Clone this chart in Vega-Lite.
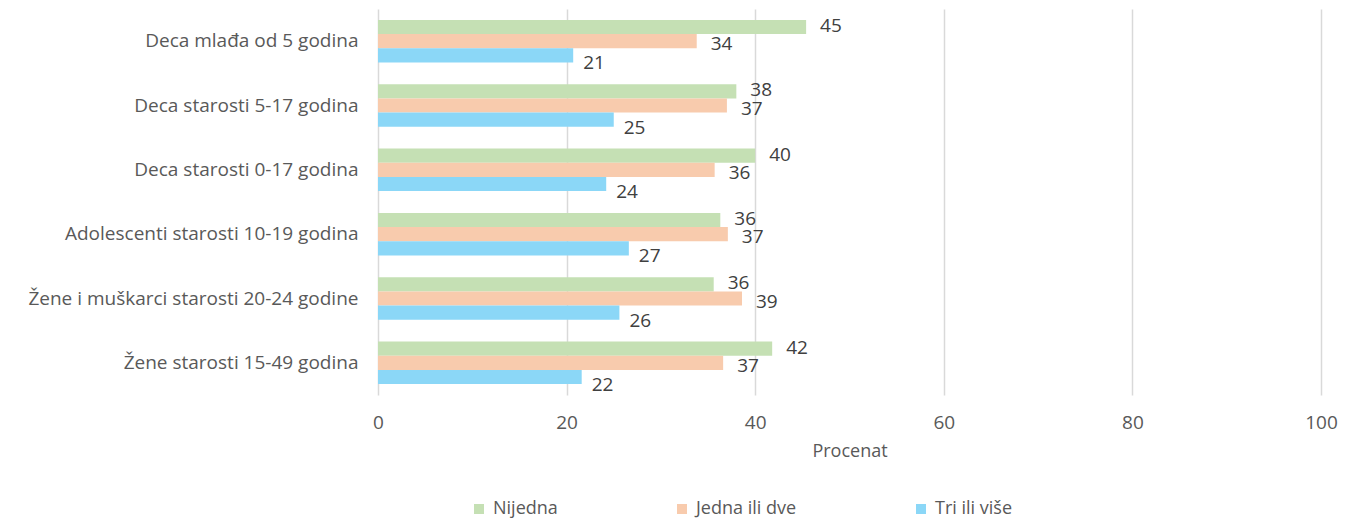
{
  "$schema": "https://vega.github.io/schema/vega-lite/v6.json",
  "width": 943,
  "height": 386,
  "autosize": {"type": "none"},
  "padding": {"left": 378, "top": 9, "right": 29, "bottom": 124},
  "config": {"view": {"stroke": null}, "font": "Open Sans"},
  "data": {
    "values": [
      {"group": "Deca mlađa od 5 godina", "series": "Nijedna", "value": 45.4},
      {"group": "Deca mlađa od 5 godina", "series": "Jedna ili dve", "value": 33.8},
      {"group": "Deca mlađa od 5 godina", "series": "Tri ili više", "value": 20.7},
      {"group": "Deca starosti 5-17 godina", "series": "Nijedna", "value": 38.0},
      {"group": "Deca starosti 5-17 godina", "series": "Jedna ili dve", "value": 37.0},
      {"group": "Deca starosti 5-17 godina", "series": "Tri ili više", "value": 25.0},
      {"group": "Deca starosti 0-17 godina", "series": "Nijedna", "value": 40.0},
      {"group": "Deca starosti 0-17 godina", "series": "Jedna ili dve", "value": 35.7},
      {"group": "Deca starosti 0-17 godina", "series": "Tri ili više", "value": 24.2},
      {"group": "Adolescenti starosti 10-19 godina", "series": "Nijedna", "value": 36.3},
      {"group": "Adolescenti starosti 10-19 godina", "series": "Jedna ili dve", "value": 37.1},
      {"group": "Adolescenti starosti 10-19 godina", "series": "Tri ili više", "value": 26.6},
      {"group": "Žene i muškarci starosti  20-24 godine", "series": "Nijedna", "value": 35.6},
      {"group": "Žene i muškarci starosti  20-24 godine", "series": "Jedna ili dve", "value": 38.6},
      {"group": "Žene i muškarci starosti  20-24 godine", "series": "Tri ili više", "value": 25.6},
      {"group": "Žene starosti  15-49 godina", "series": "Nijedna", "value": 41.8},
      {"group": "Žene starosti  15-49 godina", "series": "Jedna ili dve", "value": 36.6},
      {"group": "Žene starosti  15-49 godina", "series": "Tri ili više", "value": 21.6}
    ]
  },
  "encoding": {
    "y": {
      "field": "group",
      "type": "nominal",
      "sort": ["Deca mlađa od 5 godina", "Deca starosti 5-17 godina", "Deca starosti 0-17 godina", "Adolescenti starosti 10-19 godina", "Žene i muškarci starosti  20-24 godine", "Žene starosti  15-49 godina"],
      "scale": {"paddingInner": 0.34, "paddingOuter": 0.17},
      "axis": {"title": null, "domain": false, "ticks": false, "grid": false, "labelFontSize": 19, "labelColor": "#595959", "labelPadding": 20, "labelLimit": 400}
    },
    "yOffset": {"field": "series", "type": "nominal", "sort": ["Nijedna", "Jedna ili dve", "Tri ili više"]},
    "x": {
      "field": "value",
      "type": "quantitative",
      "scale": {"domain": [0, 100], "nice": false},
      "axis": {"values": [0, 20, 40, 60, 80, 100], "title": "Procenat", "domain": false, "ticks": false, "grid": true, "gridColor": "#d9d9d9", "gridWidth": 1.5, "labelFlush": false, "labelFontSize": 19, "labelColor": "#595959", "labelPadding": 18, "titleFontSize": 18, "titleFontWeight": "normal", "titleColor": "#595959", "titlePadding": 10}
    }
  },
  "layer": [
    {
      "mark": {"type": "bar"},
      "encoding": {
        "color": {
          "field": "series",
          "type": "nominal",
          "sort": ["Nijedna", "Jedna ili dve", "Tri ili više"],
          "scale": {"domain": ["Nijedna", "Jedna ili dve", "Tri ili više"], "range": ["#c5e0b4", "#f8cbad", "#8bd7f7"]},
          "legend": {"title": null, "orient": "none", "legendX": 92, "legendY": 491, "direction": "horizontal", "symbolType": "square", "symbolSize": 100, "symbolStrokeWidth": 0, "labelFontSize": 18, "labelColor": "#595959", "columnPadding": 115, "labelOffset": 5}
        }
      }
    },
    {
      "transform": [{"filter": "datum.series === 'Nijedna'"}],
      "mark": {"type": "text", "align": "left", "baseline": "middle", "dx": 14, "dy": -1, "fontSize": 19, "color": "#404040"},
      "encoding": {"text": {"field": "value", "type": "quantitative", "format": ".0f"}}
    },
    {
      "transform": [{"filter": "datum.series === 'Jedna ili dve'"}],
      "mark": {"type": "text", "align": "left", "baseline": "middle", "dx": 14, "dy": 3, "fontSize": 19, "color": "#404040"},
      "encoding": {"text": {"field": "value", "type": "quantitative", "format": ".0f"}}
    },
    {
      "transform": [{"filter": "datum.series === 'Tri ili više'"}],
      "mark": {"type": "text", "align": "left", "baseline": "middle", "dx": 10, "dy": 8, "fontSize": 19, "color": "#404040"},
      "encoding": {"text": {"field": "value", "type": "quantitative", "format": ".0f"}}
    }
  ]
}
